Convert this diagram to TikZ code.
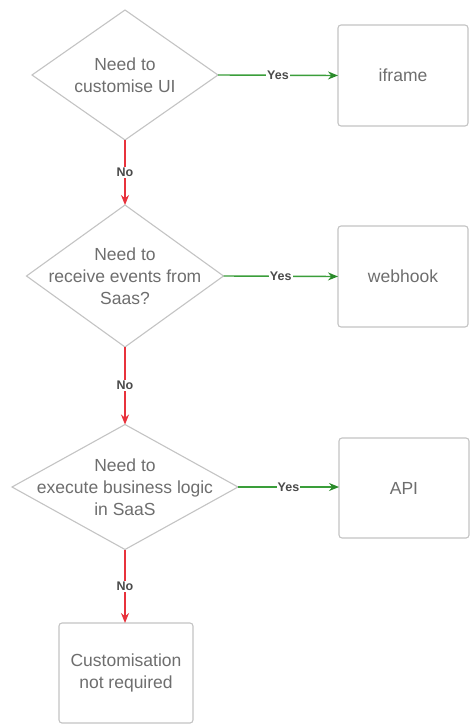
\documentclass[tikz,border=0pt]{standalone}
\usepackage{fontspec}
\setmainfont{Liberation Sans}
\usetikzlibrary{shapes.geometric,arrows.meta}
\definecolor{bordergray}{HTML}{C4C4C4}
\definecolor{txtgray}{HTML}{6E6E6E}
\definecolor{yesgreen}{HTML}{3A9E3A}
\definecolor{headgreen}{HTML}{2A8A2A}
\definecolor{nored}{HTML}{E8323C}
\definecolor{lblgray}{HTML}{4A4A4A}
\tikzset{
  dia/.style={diamond, draw=bordergray, line width=1.1pt, inner sep=0pt, outer sep=0pt, fill=white},
  box/.style={rectangle, rounded corners=3pt, draw=bordergray, line width=1.1pt, inner sep=0pt, outer sep=0pt,
    fill=white, text=txtgray, font=\fontsize{17.5}{22}\selectfont, align=center},
  dtext/.style={text=txtgray, font=\fontsize{17.5}{22}\selectfont, align=center, inner sep=0pt},
  yesarrow/.style={draw=yesgreen, line width=1.4pt, -{Stealth[length=10pt,width=8pt,color=headgreen]}},
  noarrow/.style={draw=nored, line width=1.5pt, -{Stealth[length=10pt,width=8pt]}},
  lbl/.style={fill=white, text=lblgray, font=\fontsize{12.5}{13}\selectfont\bfseries, inner sep=1pt}
}
\begin{document}
\begin{tikzpicture}[x=1pt,y=-1pt]
\useasboundingbox[fill=white] (0,0) rectangle (470,725);
% decisions
\node[dia, minimum width=186pt, minimum height=130pt] (d1) at (125,75) {};
\node[dtext] (t1) at (d1) {Need to\\customise UI};
\node[dia, minimum width=197pt, minimum height=142pt] (d2) at (125,276) {};
\node[dtext] (t2) at (d2) {Need to\\receive events from\\Saas?};
\node[dia, minimum width=226pt, minimum height=125pt] (d3) at (125,487) {};
\node[dtext] (t3) at (d3) {Need to\\execute business logic\\in SaaS};
% outcomes
\node[box, minimum width=130pt, minimum height=101pt] (b1) at (403,75.5) {iframe};
\node[box, minimum width=130pt, minimum height=101pt] (b2) at (403,276.5) {webhook};
\node[box, minimum width=130pt, minimum height=100pt] (b3) at (404,488) {API};
\node[box, minimum width=134pt, minimum height=100pt] (b4) at (126,673) {Customisation\\not required};
% connectors
\draw[yesarrow] (d1.east) -- node[lbl] {Yes} (b1.west);
\draw[yesarrow] (d2.east) -- node[lbl] {Yes} (b2.west);
\draw[yesarrow] (d3.east) -- node[lbl] {Yes} (d3.east -| b3.west);
\draw[noarrow] (d1.south) -- node[lbl] {No} (d2.north);
\draw[noarrow] (d2.south) -- node[lbl] {No} (d3.north);
\draw[noarrow] (d3.south) -- node[lbl] {No} (d3.south |- b4.north);
\end{tikzpicture}
\end{document}
